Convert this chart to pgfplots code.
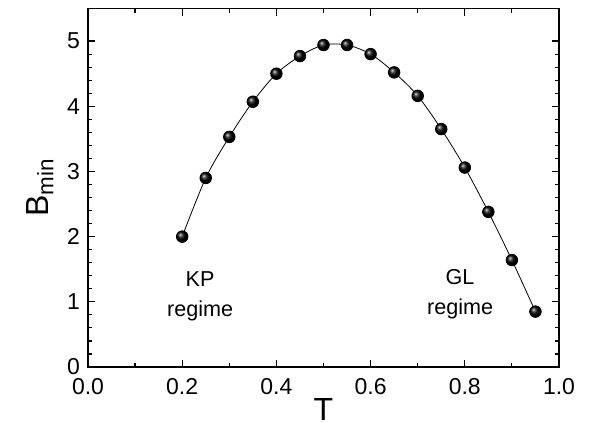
\documentclass[border=0pt]{standalone}
\usepackage{fontspec}
\setmainfont{Liberation Sans}
\usepackage{pgfplots}
\pgfplotsset{compat=1.18}
\begin{document}
\begin{tikzpicture}
\useasboundingbox (-44pt,-28pt) rectangle (256.5pt,183.5pt);
\begin{axis}[
  at={(0,0)}, anchor=origin,
  scale only axis,
  width=235.5pt, height=179.25pt,
  xmin=0, xmax=1, ymin=0, ymax=5.5,
  xtick={0,0.2,...,1.0}, ytick={0,1,...,5},
  minor x tick num=1, minor y tick num=4,
  tick align=inside,
  major tick length=3.5pt, minor tick length=2pt,
  tick style={black, line width=0.6pt},
  axis line style={line width=0.7pt},
  xticklabel style={yshift=-2pt, /pgf/number format/.cd, fixed, fixed zerofill, precision=1},
  /pgf/number format/assume math mode=true,
  tick label style={font=\fontsize{11.5}{13}\selectfont},
  yticklabel style={xshift=-0.5pt},
  xlabel={T}, ylabel={B\textsubscript{min}},
  label style={font=\fontsize{16}{18}\selectfont},
  xlabel style={yshift=5pt},
  ylabel style={yshift=0pt},
]
\addplot[black, line width=0.4pt, smooth] coordinates {
  (0.20,2.00) (0.25,2.90) (0.30,3.53) (0.35,4.07) (0.40,4.50)
  (0.45,4.77) (0.50,4.94) (0.55,4.94) (0.60,4.80) (0.65,4.52)
  (0.70,4.16) (0.75,3.65) (0.80,3.06) (0.85,2.38) (0.90,1.64) (0.95,0.85)
};
\addplot[only marks, mark=ball, mark size=2.9pt, ball color=black] coordinates {
  (0.20,2.00) (0.25,2.90) (0.30,3.53) (0.35,4.07) (0.40,4.50)
  (0.45,4.77) (0.50,4.94) (0.55,4.94) (0.60,4.80) (0.65,4.52)
  (0.70,4.16) (0.75,3.65) (0.80,3.06) (0.85,2.38) (0.90,1.64) (0.95,0.85)
};
\node[align=center, font=\fontsize{10.8}{15}\selectfont] at (axis cs:0.238,1.08) {KP\\regime};
\node[align=center, font=\fontsize{10.8}{15}\selectfont] at (axis cs:0.79,1.12) {GL\\regime};
\end{axis}
\end{tikzpicture}
\end{document}
